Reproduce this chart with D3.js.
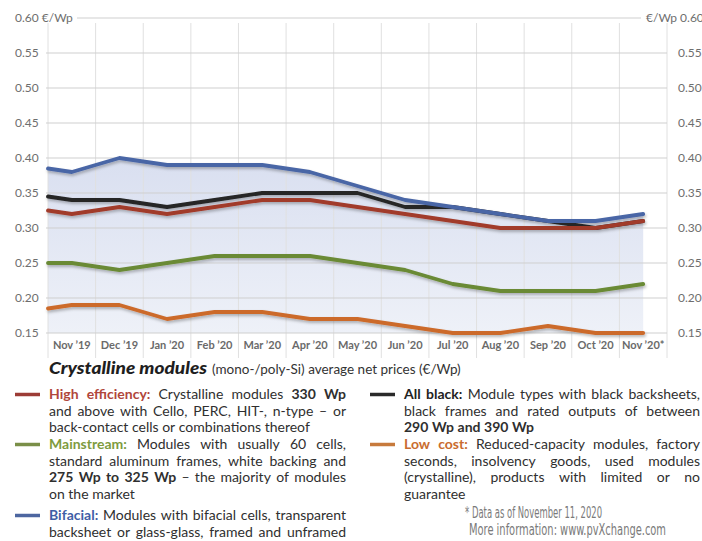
<!DOCTYPE html>
<html>
<head>
<meta charset="utf-8">
<script src="https://cdn.jsdelivr.net/npm/d3@7"></script>
<style>
  html, body { margin: 0; padding: 0; background: #fff; }
  svg { display: block; font-family: Lato, "Open Sans", sans-serif; }
</style>
</head>
<body>
<svg id="chart" width="702" height="541"></svg>
<script>
// Months on the x axis (price survey dates)
const months = ["Nov ’19", "Dec ’19", "Jan ’20", "Feb ’20", "Mar ’20", "Apr ’20", "May ’20",
                "Jun ’20", "Jul ’20", "Aug ’20", "Sep ’20", "Oct ’20", "Nov ’20*"];

// Net prices in €/Wp; the first value is where each line enters at the left edge
const highEfficiency = [0.325, 0.32, 0.33, 0.32, 0.33, 0.34, 0.34, 0.33, 0.32, 0.31, 0.30, 0.30, 0.30, 0.31];
const allBlack       = [0.345, 0.34, 0.34, 0.33, 0.34, 0.35, 0.35, 0.35, 0.33, 0.33, 0.32, 0.31, 0.30, 0.31];
const mainstream     = [0.25, 0.25, 0.24, 0.25, 0.26, 0.26, 0.26, 0.25, 0.24, 0.22, 0.21, 0.21, 0.21, 0.22];
const lowCost        = [0.185, 0.19, 0.19, 0.17, 0.18, 0.18, 0.17, 0.17, 0.16, 0.15, 0.15, 0.16, 0.15, 0.15];
const bifacial       = [0.385, 0.38, 0.40, 0.39, 0.39, 0.39, 0.38, 0.36, 0.34, 0.33, 0.32, 0.31, 0.31, 0.32];

// Y axis ticks
const yTicks = [0.15, 0.20, 0.25, 0.30, 0.35, 0.40, 0.45, 0.50, 0.55, 0.60];

// Legend texts: ##label## coloured bold, **text** bold; second item = justified line
const legendLeft = [
  { series: "High efficiency", lines: [
    ["##High efficiency:## Crystalline modules **330 Wp**", true],
    ["and above with Cello, PERC, HIT-, n-type – or", true],
    ["back-contact cells or combinations thereof", false]] },
  { series: "Mainstream", lines: [
    ["##Mainstream:## Modules with usually 60 cells,", true],
    ["standard aluminum frames, white backing and", true],
    ["**275 Wp to 325 Wp** – the majority of modules", true],
    ["on the market", false]] },
  { series: "Bifacial", lines: [
    ["##Bifacial:## Modules with bifacial cells, transparent", true],
    ["backsheet or glass-glass, framed and unframed", true]] }
];
const legendRight = [
  { series: "All black", lines: [
    ["##All black:## Module types with black backsheets,", true],
    ["black frames and rated outputs of between", true],
    ["**290 Wp and 390 Wp**", false]] },
  { series: "Low cost", lines: [
    ["##Low cost:## Reduced-capacity modules, factory", true],
    ["seconds, insolvency goods, used modules", true],
    ["(crystalline), products with limited or no", true],
    ["guarantee", false]] }
];
const footnotes = ["* Data as of November 11, 2020", "More information: www.pvXchange.com"];

const seriesStyle = {
  "All black":       { data: allBlack,       line: "#252525", label: "#222",    key: "#2a2a2a" },
  "High efficiency": { data: highEfficiency, line: "#a13a2c", label: "#b0463b", key: "#9c3c36" },
  "Mainstream":      { data: mainstream,     line: "#6a8a36", label: "#7e9b3e", key: "#7a8f48" },
  "Low cost":        { data: lowCost,        line: "#cc6a2b", label: "#c96c30", key: "#c77a3c" },
  "Bifacial":        { data: bifacial,       line: "#4a66a6", label: "#3f5ea6", key: "#4d66a0" }
};
const drawOrder = ["All black", "High efficiency", "Mainstream", "Low cost", "Bifacial"];

const svg = d3.select("#chart");

const x = d3.scaleBand().domain(months).range([48, 667]).paddingInner(0).paddingOuter(0);
const y = d3.scaleLinear().domain([0.15, 0.60]).range([333, 18]);
const xAt = i => i === 0 ? x.range()[0] : x(months[i - 1]) + x.bandwidth() / 2;

const defs = svg.append("defs");
const grad = defs.append("linearGradient").attr("id", "areaFill")
  .attr("x1", 0).attr("y1", 0).attr("x2", 0).attr("y2", 1);
grad.append("stop").attr("offset", "0%").attr("stop-color", "#d9dff0");
grad.append("stop").attr("offset", "100%").attr("stop-color", "#eef1f8");
const shadow = defs.append("filter").attr("id", "lineShadow")
  .attr("x", "-5%").attr("y", "-50%").attr("width", "110%").attr("height", "200%");
shadow.append("feDropShadow").attr("dx", 1).attr("dy", 2).attr("stdDeviation", 1.4)
  .attr("flood-color", "#000").attr("flood-opacity", 0.28);

// Shaded area under the bifacial line
const area = d3.area().x((d, i) => xAt(i)).y0(y(0.15)).y1(d => y(d));
svg.append("path").datum(bifacial).attr("d", area).attr("fill", "url(#areaFill)");

// Vertical grid at month boundaries
const vBounds = months.map(m => x(m)).concat([x.range()[1]]);
svg.append("g").selectAll("line").data(vBounds).join("line")
  .attr("x1", d => d).attr("x2", d => d).attr("y1", 23).attr("y2", 358)
  .attr("stroke", "#e0e0e0").attr("stroke-width", 1);

// Horizontal grid
svg.append("g").selectAll("line").data(yTicks).join("line")
  .attr("x1", d => d === 0.60 ? 77 : 46).attr("x2", d => d === 0.60 ? 641 : 667)
  .attr("y1", d => y(d)).attr("y2", d => y(d))
  .attr("stroke", "#cfcfcf").attr("stroke-width", 1);

// Y axis labels, left and right
const fmt = d3.format(".2f");
svg.append("g").selectAll("text").data(yTicks).join("text")
  .attr("x", 15).attr("y", d => y(d)).attr("dy", "0.35em")
  .attr("font-size", 12).attr("fill", "#6e6e6e")
  .text(d => d === 0.60 ? fmt(d) + " €/Wp" : fmt(d));
svg.append("g").selectAll("text").data(yTicks).join("text")
  .attr("x", d => d === 0.60 ? 646 : 678).attr("y", d => y(d)).attr("dy", "0.35em")
  .attr("font-size", 12).attr("fill", "#6e6e6e")
  .text(d => d === 0.60 ? "€/Wp " + fmt(d) : fmt(d));

// X axis month labels
const xAxis = d3.axisBottom(x).tickSize(0).tickPadding(0);
const gx = svg.append("g").attr("transform", "translate(0,341)").call(xAxis);
gx.select(".domain").remove();
gx.selectAll("text").attr("font-family", "Lato, sans-serif").attr("font-weight", "bold")
  .attr("font-size", 11).attr("fill", "#6a6a6a").attr("dy", "0.71em");

// Price lines
const line = d3.line().x((d, i) => xAt(i)).y(d => y(d));
svg.append("g").attr("filter", "url(#lineShadow)").selectAll("path").data(drawOrder).join("path")
  .attr("d", k => line(seriesStyle[k].data))
  .attr("fill", "none").attr("stroke", k => seriesStyle[k].line)
  .attr("stroke-width", 3.8).attr("stroke-linejoin", "round").attr("stroke-linecap", "round");

// Title
svg.append("text").attr("x", 49).attr("y", 374)
  .attr("font-weight", "900").attr("font-style", "italic")
  .attr("font-size", 17).attr("fill", "#1e1e1e")
  .attr("textLength", 158).attr("lengthAdjust", "spacingAndGlyphs")
  .text("Crystalline modules");
svg.append("text").attr("x", 212).attr("y", 374)
  .attr("font-size", 13.5).attr("fill", "#333")
  .text("(mono-/poly-Si) average net prices (€/Wp)");

// Legend with justified rich text
const fontSize = 14;
function parseLine(str) {
  const words = [];
  const re = /(##[^#]+##|\*\*[^*]+\*\*|[^#*]+)/g;
  let m;
  while ((m = re.exec(str)) !== null) {
    let t = m[0], style = "plain";
    if (t.startsWith("##")) { t = t.slice(2, -2); style = "label"; }
    else if (t.startsWith("**")) { t = t.slice(2, -2); style = "bold"; }
    t.split(/\s+/).filter(w => w.length).forEach(w => words.push({ text: w, style }));
  }
  return words;
}
function styleWord(sel, w, labelColor) {
  sel.attr("font-size", fontSize)
    .attr("font-weight", w.style === "plain" ? "normal" : "bold")
    .attr("fill", w.style === "label" ? labelColor : "#2f2f2f")
    .text(w.text);
}
const measurer = svg.append("text").attr("visibility", "hidden");
function wordWidth(w) {
  styleWord(measurer, w, "#000");
  return measurer.node().getComputedTextLength();
}
measurer.attr("font-size", fontSize).attr("font-weight", "normal").text("a a");
const withSpace = measurer.node().getComputedTextLength();
measurer.text("aa");
const spaceW = withSpace - measurer.node().getComputedTextLength();

function drawBlock(entries, x0, x1, keyX0, keyX1, baselines) {
  const g = svg.append("g");
  let row = 0;
  entries.forEach(entry => {
    const st = seriesStyle[entry.series];
    const base0 = baselines[row];
    g.append("line").attr("x1", keyX0).attr("x2", keyX1)
      .attr("y1", base0 - 4.5).attr("y2", base0 - 4.5)
      .attr("stroke", st.key).attr("stroke-width", 3.5);
    entry.lines.forEach(([str, justify]) => {
      const words = parseLine(str);
      const widths = words.map(wordWidth);
      const total = d3.sum(widths);
      const gap = justify && words.length > 1 ? (x1 - x0 - total) / (words.length - 1) : spaceW;
      let cx = x0;
      words.forEach((w, i) => {
        styleWord(g.append("text").attr("x", cx).attr("y", baselines[row]), w, st.label);
        cx += widths[i] + gap;
      });
      row++;
    });
  });
}
drawBlock(legendLeft, 49, 346, 15, 40, [399, 416, 432, 449, 466, 482, 499, 520, 537]);
drawBlock(legendRight, 404, 700, 370, 395, [399, 416, 432, 449, 466, 482, 499]);
measurer.remove();

// Footnotes, set in a narrow face
const footWidths = [137, 197];
svg.append("g").selectAll("text").data(footnotes).join("text")
  .attr("x", (d, i) => i === 0 ? 465 : 469).attr("y", (d, i) => i === 0 ? 518 : 535)
  .attr("font-family", "'Liberation Sans Narrow', 'DejaVu Sans Condensed', Lato, sans-serif")
  .attr("font-size", 15).attr("fill", "#7a7a7a")
  .attr("textLength", (d, i) => footWidths[i]).attr("lengthAdjust", "spacingAndGlyphs")
  .text(d => d);
</script>
</body>
</html>
